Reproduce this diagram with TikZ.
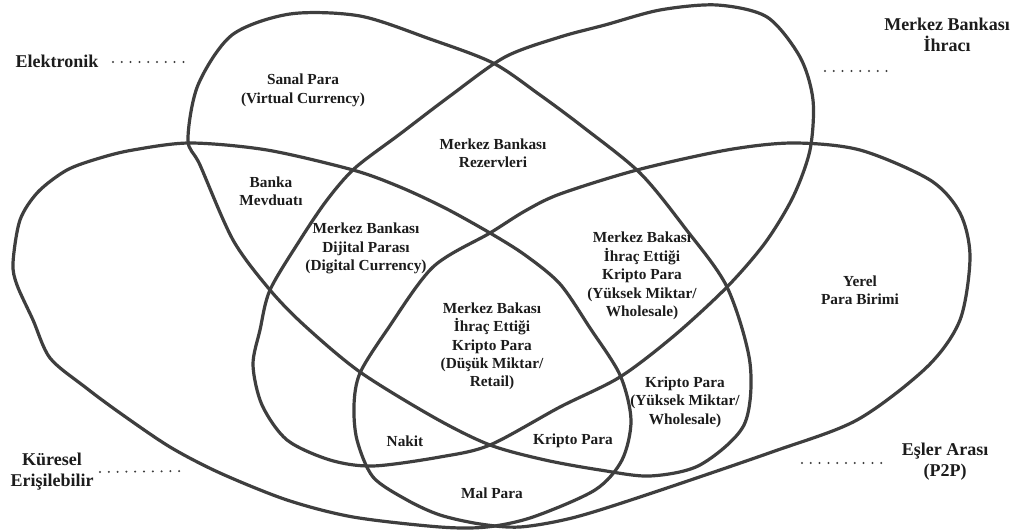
\documentclass[tikz,border=0pt]{standalone}
\usepackage{fontspec}
\setmainfont{Liberation Serif}
\definecolor{linegray}{RGB}{62,62,62}
\definecolor{txt}{RGB}{28,28,28}
\begin{document}
\begin{tikzpicture}[x=0.75pt,y=-0.75pt,
  petal/.style={draw=linegray, line width=2.4pt},
  lbl/.style={font=\bfseries\fontsize{11.5}{13.8}\selectfont, text=txt, align=center, inner sep=0pt},
  outer/.style={font=\bfseries\fontsize{13.5}{15.8}\selectfont, text=txt, align=center, inner sep=0pt},
  dotline/.style={draw=linegray, line width=1.7pt, line cap=round, dash pattern=on 0pt off 6.6pt}]
\useasboundingbox[fill=white] (0,0) rectangle (1025,530);

% Elektronik petal
\draw[petal] plot[smooth cycle] coordinates {(188,140) (198,85) (232,35) (290,14) (360,16) (430,39) (493,63) (540,95) (583,127) (640,173) (685,228) (727,287) (750,363) (744,425) (700,465) (650,476) (600,470) (545,460) (490,445) (435,418) (360,372) (305,326) (270,290) (233,240) (200,165)};
% Merkez Bankasi Ihraci petal
\draw[petal] plot[smooth cycle] coordinates {(717,5) (767,17) (800,57) (813,100) (810,150) (793,197) (765,243) (727,287) (675,335) (620,377) (560,407) (490,445) (440,457) (373,466) (330,460) (287,440) (262,405) (253,365) (260,330) (270,290) (300,240) (327,200) (355,168) (400,134) (450,96) (505,57) (560,37) (605,25) (660,10)};
% Kuresel Erisilebilir petal
\draw[petal] plot[smooth cycle] coordinates {(13,263) (20,220) (38,192) (67,170) (100,158) (133,150) (190,143) (267,150) (353,170) (400,187) (445,208) (490,233) (525,255) (560,284) (590,328) (620,375) (631,420) (622,460) (595,490) (533,517) (487,527) (440,527) (353,517) (287,500) (220,473) (170,447) (120,413) (85,387) (50,358) (33,320) (17,285)};
% Esler Arasi petal
\draw[petal] plot[smooth cycle] coordinates {(433,267) (490,233) (525,211) (560,194) (637,170) (727,150) (793,143) (860,150) (930,180) (960,213) (970,257) (960,320) (927,367) (857,420) (772,452) (640,497) (572,518) (520,527) (480,524) (440,515) (407,500) (373,477) (357,440) (354,405) (360,373) (387,330)};

% outer labels
\node[outer] (elek) at (57,61) {Elektronik};
\node[outer] (mbi) at (947,35) {Merkez Bankası\\İhracı};
\node[outer] (kur) at (52,472) {Küresel\\Erişilebilir};
\node[outer] (p2p) at (945,462) {Eşler Arası\\(P2P)};

\coordinate (elekA) at (113,62); \coordinate (elekB) at (190,62);
\coordinate (mbiA) at (825,71); \coordinate (mbiB) at (893,71);
\coordinate (kurA) at (100,472); \coordinate (kurB) at (187,471);
\coordinate (p2pA) at (802,463); \coordinate (p2pB) at (888,463);
\draw[dotline] (elekA) -- (elekB);
\draw[dotline] (mbiA) -- (mbiB);
\draw[dotline] (kurA) -- (kurB);
\draw[dotline] (p2pA) -- (p2pB);

% region labels
\node[lbl] (sanal) at (303,90.5) {Sanal Para\\(Virtual Currency)};
\node[lbl] (rez) at (493,153) {Merkez Bankası\\Rezervleri};
\node[lbl] (banka) at (271,191.5) {Banka\\Mevduatı};
\node[lbl] (cbdc) at (366,248.5) {Merkez Bankası\\Dijital Parası\\(Digital Currency)};
\node[lbl] (cbret) at (492,346.5) {Merkez Bakası\\İhraç Ettiği\\Kripto Para\\(Düşük Miktar/\\Retail)};
\node[lbl] (cbwh) at (642,276) {Merkez Bakası\\İhraç Ettiği\\Kripto Para\\(Yüksek Miktar/\\Wholesale)};
\node[lbl] (krwh) at (685,402) {Kripto Para\\(Yüksek Miktar/\\Wholesale)};
\node[lbl] (yerel) at (860,290.5) {Yerel\\Para Birimi};
\node[lbl] (nakit) at (405,441) {Nakit};
\node[lbl] (kripto) at (573,441) {Kripto Para};
\node[lbl] (mal) at (492,493) {Mal Para};
\end{tikzpicture}
\end{document}
